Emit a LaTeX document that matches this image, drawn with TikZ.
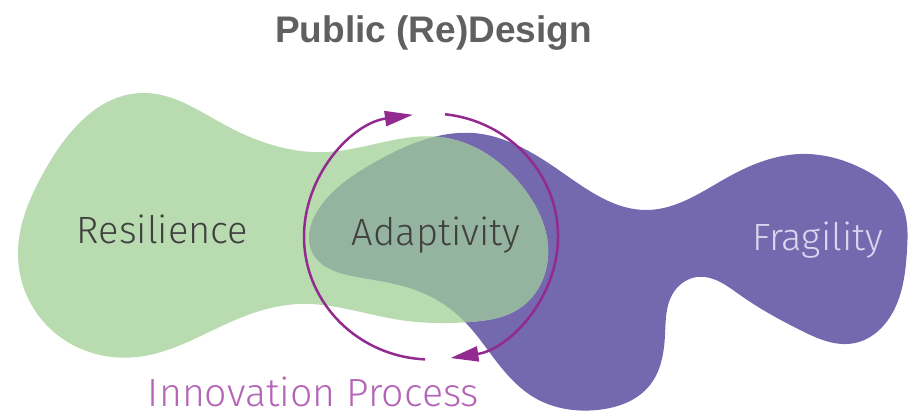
\documentclass[tikz,border=0pt]{standalone}
\usepackage{fontspec}
\setmainfont{Liberation Sans}
\newfontfamily\lightfont{Fira Sans Light}
\usetikzlibrary{arrows.meta,hobby}
\definecolor{resgreen}{HTML}{B8DCB0}
\definecolor{fragpurple}{HTML}{7468AE}
\definecolor{adaptgray}{HTML}{95B4A0}
\definecolor{cyclecol}{HTML}{922A8F}
\definecolor{innocol}{HTML}{B565B8}
\definecolor{titlecol}{HTML}{606060}
\definecolor{darktext}{HTML}{404040}
\definecolor{fragtext}{HTML}{DAD6EE}
\newcommand\greenblob{plot[closed hobby] coordinates {(143,93) (225,125) (327,152) (440,137) (525,190) (548,247) (520,308) (470,322) (400,320) (300,304) (240,318) (137,357) (55,333) (18,257) (45,170)}}
\newcommand\purpleblob{plot[closed hobby] coordinates {(473,133) (563,173) (647,210) (730,176) (800,154) (865,170) (902,205) (907,250) (895,308) (855,343) (800,330) (740,295) (697,277) (672,295) (665,335) (650,385) (597,410) (535,398) (500,366) (463,320) (423,293) (357,277) (312,252) (318,210) (370,165) (430,138)}}
\tikzset{
  cyclearc/.style={draw=cyclecol, line width=2.5pt, -{Triangle[length=28pt,width=15pt]}},
  lbl/.style={font=\lightfont\fontsize{38}{44}\selectfont, anchor=base, inner sep=0pt, text depth=0pt},
}
\begin{document}
\begin{tikzpicture}[x=1pt,y=-1pt]
\useasboundingbox (0,0) rectangle (909,414);
\fill[fragpurple] \purpleblob;
\fill[resgreen] \greenblob;
\begin{scope}
  \clip \greenblob;
  \fill[adaptgray] \purpleblob;
\end{scope}
\coordinate (c) at (431,236.5);
\draw[cyclearc] (c) ++(-83.7:127 and 123) arc[start angle=-83.7, end angle=81.2, x radius=127, y radius=123];
\draw[cyclearc] (c) ++(92.7:127 and 123) arc[start angle=92.7, end angle=261.8, x radius=127, y radius=123];
\node[anchor=base, inner sep=0pt, text=titlecol, font=\bfseries\fontsize{37}{42}\selectfont] (title) at (433.5,43) {Public (Re)Design};
\node[lbl, text=darktext] (res) at (162.5,243) {Resilience};
\node[lbl, text=darktext] (adapt) at (436,245) {Adaptivity};
\node[lbl, text=fragtext] (frag) at (817.5,250) {Fragility};
\node[lbl, text=innocol, font=\lightfont\fontsize{39.3}{44}\selectfont] (inno) at (313.5,406) {Innovation Process};
\end{tikzpicture}
\end{document}
